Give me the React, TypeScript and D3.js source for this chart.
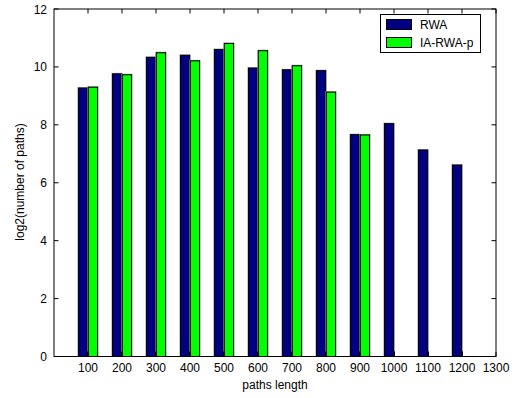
import React from "react";
import * as d3 from "d3";

const lengths = [100, 200, 300, 400, 500, 600, 700, 800, 900, 1000, 1100, 1200];
const rwa = [9.27, 9.76, 10.33, 10.4, 10.6, 9.96, 9.9, 9.87, 7.66, 8.04, 7.13, 6.61];
const iaRwaP = [9.3, 9.73, 10.49, 10.21, 10.81, 10.56, 10.04, 9.13, 7.65, null, null, null];
const xTicks = [100, 200, 300, 400, 500, 600, 700, 800, 900, 1000, 1100, 1200, 1300];
const yTicks = [0, 2, 4, 6, 8, 10, 12];
const seriesNames = ["RWA", "IA-RWA-p"];
const seriesColors = ["#000080", "#00ff00"];

const W = 519;
const H = 398;
const left = 54;
const right = 496;
const top = 9;
const bottom = 356.5;
const font = "'Liberation Sans', Arial, Helvetica, sans-serif";

export default function App() {
  const x = d3.scaleLinear().domain([0, 1300]).range([left, right]);
  const y = d3.scaleLinear().domain([0, 12]).range([bottom, top]);
  const step = x(100) - x(0);
  const barW = step * 0.27;
  const offset = step * 0.145;
  const series = [rwa, iaRwaP];

  const bars: React.ReactNode[] = [];
  series.forEach((vals, si) => {
    vals.forEach((v, i) => {
      if (v == null) return;
      const cx = x(lengths[i]) + (si === 0 ? -offset : offset);
      const x0 = cx - barW / 2;
      const y0 = y(v);
      const h = y(0) - y0;
      bars.push(
        <g key={`b${si}-${i}`}>
          <rect x={x0 - 1} y={y0 - 1} width={barW + 2} height={h + 1} fill="#a0a0a0" />
          <rect x={x0} y={y0} width={barW} height={h} fill={seriesColors[si]} stroke="#000" strokeWidth={1} />
        </g>
      );
    });
  });

  // small dark baseline marks beside each first-series bar
  const marks = lengths.map((l, i) => (
    <rect key={`m${i}`} x={x(l) - 1} y={bottom - 5} width={2} height={5} fill="#000" />
  ));

  return (
    <svg width={W} height={H} style={{ position: "absolute", left: 0, top: 0, background: "#fff" }}>
      <rect x={0} y={0} width={W} height={H} fill="#fff" />
      {bars}
      {marks}
      {/* axes box */}
      <rect x={left} y={top} width={right - left} height={bottom - top} fill="none" stroke="#000" strokeWidth={1} />
      {xTicks.map((t) => (
        <g key={`xt${t}`}>
          <line x1={x(t)} x2={x(t)} y1={bottom} y2={bottom - 4.5} stroke="#000" />
          <line x1={x(t)} x2={x(t)} y1={top} y2={top + 4.5} stroke="#000" />
          <text x={x(t)} y={372} textAnchor="middle" fontFamily={font} fontSize={12} fill="#000">
            {t}
          </text>
        </g>
      ))}
      {yTicks.map((t) => (
        <g key={`yt${t}`}>
          <line x1={left} x2={left + 4.5} y1={y(t)} y2={y(t)} stroke="#000" />
          <line x1={right} x2={right - 4.5} y1={y(t)} y2={y(t)} stroke="#000" />
          <text x={47} y={y(t) + 4.5} textAnchor="end" fontFamily={font} fontSize={12} fill="#000">
            {t}
          </text>
        </g>
      ))}
      <text x={275} y={389} textAnchor="middle" fontFamily={font} fontSize={12} fill="#000">
        paths length
      </text>
      <text
        transform={`translate(24,182) rotate(-90)`}
        textAnchor="middle"
        fontFamily={font}
        fontSize={12}
        fill="#000"
      >
        log2(number of paths)
      </text>
      {/* legend */}
      <rect x={380.5} y={14.5} width={100} height={38} fill="#fff" stroke="#000" />
      {seriesNames.map((n, i) => (
        <g key={n}>
          <rect x={386.5} y={19.5 + i * 18} width={25} height={10} fill={seriesColors[i]} stroke="#000" />
          <text x={420} y={28.5 + i * 18} fontFamily={font} fontSize={12} fill="#000">
            {n}
          </text>
        </g>
      ))}
    </svg>
  );
}
